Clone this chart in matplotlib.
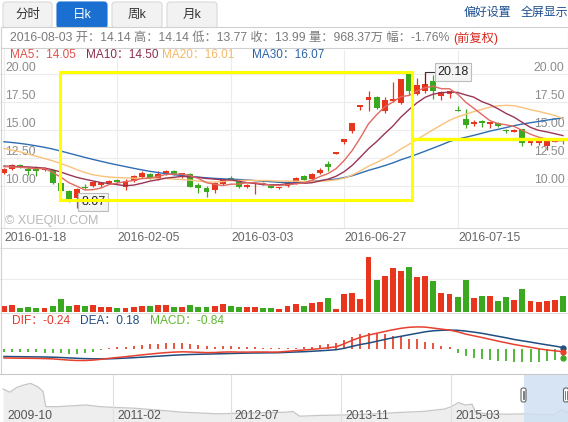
import numpy as np
import matplotlib
matplotlib.use('Agg')
import matplotlib.pyplot as plt
from matplotlib.patches import Rectangle, FancyBboxPatch

plt.rcParams['font.family'] = ['Liberation Sans', 'Noto Sans CJK SC', 'DejaVu Sans']

# daily k-line 2016-01-18 .. 2016-08-03 (70 trading days, suspension Mar-Jun)
opens = [11.2, 11.5, 11.85, 11.5, 11.45, 11.4, 11.4, 10.3, 9.55, 8.9,
         9.9, 10.0, 10.05, 10.25, 10.55, 9.95, 10.45, 10.8, 11.1, 10.65,
         11.05, 11.35, 10.95, 11.1, 10.1, 9.8, 9.6, 10.15, 10.7, 10.6,
         9.95, 10.15, 10.25, 10.0, 9.8, 10.0, 10.2, 10.9, 10.6, 11.15,
         11.95, 12.9, 13.9, 14.95, 17.05, 17.7, 17.95, 16.65, 17.55, 17.4,
         20.0, 18.25, 18.5, 19.4, 18.05, 18.2, 16.7, 15.95, 15.55, 15.8,
         15.5, 15.65, 14.95, 14.85, 15.05, 13.85, 13.8, 13.6, 13.95, 14.14]
closes = [11.5, 11.9, 11.7, 11.3, 11.35, 11.5, 10.25, 9.55, 8.85, 9.75,
          9.8, 10.4, 10.3, 10.45, 10.35, 10.45, 10.9, 11.15, 10.7, 11.05,
          11.35, 11.05, 11.15, 9.95, 9.85, 9.5, 10.3, 10.6, 10.55, 9.9,
          10.1, 10.3, 10.15, 9.85, 9.85, 10.4, 10.7, 10.55, 11.1, 11.45,
          11.74, 12.92, 14.2, 15.6, 17.1, 17.95, 16.95, 17.7, 17.75, 19.55,
          18.45, 19.0, 19.1, 18.45, 18.4, 18.45, 16.65, 15.45, 15.75, 15.6,
          15.7, 15.35, 14.9, 15.0, 13.85, 14.0, 14.05, 14.1, 14.1, 13.99]
highs = [11.65, 12.0, 12.0, 11.8, 11.8, 11.7, 11.45, 10.35, 9.6, 9.8,
         10.15, 10.45, 10.4, 10.55, 10.6, 10.6, 11.0, 11.3, 11.15, 11.3,
         11.4, 11.4, 11.2, 11.15, 10.3, 10.0, 10.35, 10.65, 10.9, 10.65,
         10.15, 10.35, 10.35, 10.1, 9.9, 10.45, 10.8, 10.95, 11.2, 11.6,
         12.2, 12.92, 14.2, 15.6, 17.1, 18.45, 18.0, 17.9, 19.3, 19.55,
         20.15, 19.65, 20.18, 19.9, 18.45, 18.5, 17.1, 16.85, 15.85, 15.85,
         15.75, 15.75, 15.05, 15.05, 15.1, 14.05, 14.1, 14.15, 14.15, 14.14]
lows = [11.05, 11.4, 11.6, 11.0, 10.9, 11.3, 10.2, 9.5, 8.6, 8.07,
        9.7, 9.95, 9.95, 10.2, 10.3, 9.65, 10.4, 10.7, 10.6, 10.5,
        11.0, 10.95, 10.75, 9.9, 9.4, 9.05, 9.35, 10.1, 10.5, 9.85,
        9.85, 9.3, 10.05, 9.8, 9.7, 9.95, 10.15, 10.5, 10.5, 11.1,
        11.35, 12.9, 13.75, 14.75, 16.8, 16.65, 16.9, 16.5, 17.5, 17.3,
        18.1, 18.1, 18.3, 17.75, 17.7, 17.85, 16.65, 15.15, 15.4, 15.3,
        15.15, 15.3, 14.75, 14.8, 13.55, 13.7, 13.7, 13.2, 13.9, 13.77]
# volume, 万股
volumes = [360, 420, 240, 300, 240, 240, 360, 790, 360, 420,
           360, 420, 300, 300, 240, 240, 300, 360, 360, 420,
           420, 300, 300, 420, 300, 300, 360, 480, 360, 300,
           300, 300, 240, 240, 180, 360, 480, 360, 560, 620,
           850, 180, 1110, 1150, 790, 3350, 1940, 2180, 2660, 2480,
           2720, 2120, 2200, 1880, 1150, 1110, 910, 1940, 850, 970,
           970, 670, 910, 730, 1390, 670, 610, 670, 730, 968.37]

ma5 = [11.73, 11.7, 11.68, 11.6, 11.55, 11.55, 11.22, 10.79, 10.3, 9.98,
       9.64, 9.67, 9.82, 10.14, 10.26, 10.39, 10.49, 10.66, 10.71, 10.85,
       11.03, 11.06, 11.06, 10.91, 10.67, 10.3, 10.15, 10.04, 10.16, 10.17,
       10.29, 10.29, 10.2, 10.06, 10.05, 10.11, 10.19, 10.27, 10.52, 10.84,
       11.11, 11.55, 12.28, 13.18, 14.31, 15.55, 16.36, 17.06, 17.49, 17.98,
       18.08, 18.49, 18.77, 18.91, 18.68, 18.68, 18.21, 17.48, 16.94, 16.38,
       15.83, 15.57, 15.46, 15.31, 14.96, 14.62, 14.36, 14.2, 14.02, 14.05]
ma10 = [11.78, 11.75, 11.72, 11.7, 11.65, 11.6, 11.45, 11.25, 11.0, 10.77,
        10.6, 10.45, 10.3, 10.22, 10.12, 10.02, 10.08, 10.24, 10.43, 10.56,
        10.71, 10.78, 10.86, 10.81, 10.76, 10.67, 10.61, 10.55, 10.54, 10.42,
        10.3, 10.22, 10.12, 10.11, 10.11, 10.2, 10.24, 10.24, 10.29, 10.45,
        10.61, 10.87, 11.28, 11.85, 12.58, 13.33, 13.96, 14.67, 15.34, 16.15,
        16.82, 17.43, 17.92, 18.2, 18.33, 18.38, 18.35, 18.13, 17.93, 17.53,
        17.26, 16.89, 16.47, 16.13, 15.67, 15.23, 14.97, 14.83, 14.67, 14.5]
ma20 = [13.35, 13.2, 13.05, 12.85, 12.65, 12.45, 12.25, 12.0, 11.75, 11.45,
        11.2, 11.0, 10.88, 10.8, 10.75, 10.72, 10.7, 10.68, 10.67, 10.67,
        10.66, 10.62, 10.58, 10.52, 10.44, 10.35, 10.35, 10.4, 10.49, 10.49,
        10.51, 10.5, 10.49, 10.46, 10.44, 10.44, 10.43, 10.4, 10.42, 10.44,
        10.46, 10.55, 10.7, 10.98, 11.35, 11.77, 12.1, 12.46, 12.82, 13.3,
        13.72, 14.15, 14.6, 15.03, 15.46, 15.86, 16.16, 16.4, 16.64, 16.84,
        17.04, 17.16, 17.2, 17.17, 17.0, 16.81, 16.66, 16.48, 16.3, 16.01]
ma30 = [13.95, 13.88, 13.8, 13.7, 13.58, 13.45, 13.3, 13.12, 12.93, 12.74,
        12.55, 12.37, 12.2, 12.03, 11.88, 11.73, 11.58, 11.44, 11.31, 11.2,
        11.1, 11.01, 10.93, 10.86, 10.79, 10.73, 10.68, 10.64, 10.61, 10.58,
        10.54, 10.48, 10.43, 10.38, 10.33, 10.3, 10.31, 10.34, 10.42, 10.48,
        10.54, 10.62, 10.75, 10.92, 11.15, 11.4, 11.6, 11.82, 12.06, 12.34,
        12.58, 12.84, 13.11, 13.39, 13.67, 13.97, 14.18, 14.35, 14.52, 14.71,
        14.9, 15.06, 15.22, 15.39, 15.53, 15.65, 15.76, 15.88, 15.98, 16.07]

dif = [-0.87, -0.88, -0.89, -0.9, -0.91, -0.93, -0.96, -1.02, -1.08, -1.12,
       -1.12, -1.08, -1.0, -0.9, -0.82, -0.74, -0.65, -0.56, -0.48, -0.4,
       -0.33, -0.28, -0.25, -0.27, -0.3, -0.33, -0.32, -0.28, -0.26, -0.28,
       -0.28, -0.27, -0.27, -0.28, -0.27, -0.2, -0.13, -0.07, -0.01, 0.07,
       0.15, 0.25, 0.55, 0.9, 1.2, 1.42, 1.6, 1.78, 1.95, 2.1,
       2.2, 2.24, 2.22, 2.12, 2.02, 1.92, 1.75, 1.52, 1.35, 1.18,
       1.0, 0.82, 0.65, 0.48, 0.34, 0.2, 0.05, -0.06, -0.15, -0.24]
dea = [-0.72, -0.73, -0.74, -0.75, -0.76, -0.77, -0.79, -0.82, -0.86, -0.9,
       -0.93, -0.95, -0.96, -0.95, -0.92, -0.88, -0.84, -0.79, -0.74, -0.69,
       -0.64, -0.59, -0.55, -0.52, -0.5, -0.48, -0.46, -0.44, -0.42, -0.4,
       -0.38, -0.37, -0.36, -0.35, -0.34, -0.3, -0.27, -0.24, -0.2, -0.15,
       -0.1, -0.04, 0.1, 0.3, 0.48, 0.62, 0.8, 0.98, 1.15, 1.3,
       1.45, 1.6, 1.75, 1.85, 1.9, 1.92, 1.9, 1.82, 1.72, 1.6,
       1.45, 1.3, 1.15, 0.98, 0.85, 0.72, 0.58, 0.45, 0.32, 0.18]
macd = [-0.3, -0.3, -0.3, -0.3, -0.3, -0.32, -0.34, -0.4, -0.44, -0.44,
        -0.38, -0.26, -0.08, 0.1, 0.2, 0.28, 0.38, 0.46, 0.52, 0.58,
        0.62, 0.62, 0.6, 0.5, 0.4, 0.3, 0.28, 0.32, 0.32, 0.24,
        0.2, 0.2, 0.18, 0.14, 0.14, 0.1, 0.17, 0.2, 0.27, 0.4,
        0.5, 0.6, 0.93, 1.27, 1.53, 1.67, 1.6, 1.5, 1.37, 1.2,
        1.05, 1.0, 0.77, 0.6, 0.37, 0.2, -0.4, -0.67, -0.9, -1.0,
        -1.07, -1.13, -1.2, -1.25, -1.25, -1.25, -1.22, -1.15, -1.05, -0.84]

date_ticks = [0, 14, 28, 42, 56]
date_labels = ['2016-01-18', '2016-02-05', '2016-03-03', '2016-06-27', '2016-07-15']
price_ticks = [10.0, 12.5, 15.0, 17.5, 20.0]
hi_idx, hi_val = 52, 20.18
lo_idx, lo_val = 9, 8.07

# overview navigator (months since 2009-10)
nav_months = [0, 1, 2, 3, 4, 5, 5.8, 6.2, 8, 10, 12, 14, 16, 19, 22, 26, 31, 36, 41,
              42, 43, 46, 49, 53, 57, 61, 64, 65, 66, 67, 68, 68.5, 70, 73, 76, 78, 80, 81, 82]
nav_values = [45, 41, 47, 50, 52, 48, 42, 23, 23, 24, 25, 23, 22, 21, 19, 16, 14, 15, 16,
              17, 11, 12, 12.5, 13.5, 15.5, 17, 20, 23, 28, 25, 26, 16, 14, 13.5, 14, 13, 13, 19, 15.5]
nav_ticks = [0, 16, 33, 49, 65]
nav_labels = ['2009-10', '2011-02', '2012-07', '2013-11', '2015-03']

W, H = 568, 422
RED = '#e8351d'
GREEN = '#3aa91f'
GRID = '#ececec'

fig = plt.figure(figsize=(W / 100, H / 100), dpi=100)


def panel(top, bottom):
    a = fig.add_axes([0, 1 - bottom / H, 1, (bottom - top) / H])
    a.set_axis_off()
    return a


x = np.arange(len(closes))
xlim = (-4 / 8.1, 564 / 8.1)
colors = [RED if c >= o else GREEN for o, c in zip(opens, closes)]

# price panel
ax = panel(50, 228)
ax.set_xlim(*xlim)
ax.set_ylim(6.25, 22.14)
for p in price_ticks:
    ax.axhline(p, color=GRID, lw=0.8, zorder=0)
    ax.text(0.009, p + 0.54, f'{p:.2f}', transform=ax.get_yaxis_transform(),
            ha='left', va='center', fontsize=8.8, color='#8c8c8c')
    ax.text(0.994, p + 0.54, f'{p:.2f}', transform=ax.get_yaxis_transform(),
            ha='right', va='center', fontsize=8.8, color='#8c8c8c')
for t, lab in zip(date_ticks, date_labels):
    ax.axvline(t, color=GRID, lw=0.8, zorder=0)
    ax.text(t + 0.05, -0.058, lab, transform=ax.get_xaxis_transform(),
            ha='left', va='center', fontsize=8.8, color='#666666', clip_on=False)

ax.vlines(x, lows, highs, colors=colors, lw=0.9, zorder=3)
body_lo = np.minimum(opens, closes)
body_h = np.maximum(np.abs(np.subtract(closes, opens)), 0.14)
ax.bar(x, body_h, 0.72, bottom=body_lo, color=colors, zorder=3)

ax.plot(x, ma30, color='#2f6db3', lw=1.0, zorder=4)
ax.plot(x, ma20, color='#f9c27a', lw=1.0, zorder=4)
ax.plot(x, ma10, color='#9a3556', lw=1.0, zorder=4)
ax.plot(x, ma5, color='#e06a62', lw=1.0, zorder=4)

ax.plot([hi_idx, hi_idx, hi_idx + 1.4], [closes[hi_idx], hi_val, hi_val], color='#333333', lw=0.8, zorder=5)
ax.text(hi_idx + 1.5, hi_val, f'{hi_val:.2f}', ha='left', va='center', fontsize=9, color='#222222', zorder=6,
        bbox=dict(boxstyle='square,pad=0.22', fc='#f4f4f4', ec='#bdbdbd', lw=0.8))
ax.annotate(f'{lo_val:.2f}', (lo_idx, lo_val), xytext=(3, 4), textcoords='offset points',
            ha='left', va='center', fontsize=9, color='#222222', zorder=6,
            bbox=dict(boxstyle='square,pad=0.22', fc='#f4f4f4', ec='#bdbdbd', lw=0.8))

# volume panel
av = panel(250, 312)
av.set_xlim(*xlim)
av.set_ylim(0, 3751)
av.axhline(2000, color=GRID, lw=0.8, zorder=0)
av.bar(x, volumes, 0.72, color=colors)

# MACD panel
am = panel(315, 372)
am.set_xlim(*xlim)
am.set_ylim(-2.27, 3.43)
am.vlines(x, 0, macd, colors=[RED if v >= 0 else GREEN for v in macd], lw=1.2)
am.plot(x, dea, color='#1f4e80', lw=1.1)
am.plot(x, dif, color='#e8402e', lw=1.1)
am.plot(x[-1], dea[-1], 'o', ms=3.5, color='#1f4e80')
am.plot(x[-1], dif[-1], 'o', ms=3.5, color='#e8402e')
am.plot(x[-1], macd[-1], 'o', ms=3.5, color=GREEN)

# navigator
an = panel(374, 422)
an.set_xlim(-0.435, 81.9)
an.set_ylim(3.75, 63.75)
an.fill_between(nav_months, nav_values, 3.75, color='#eeeeee', lw=0)
an.plot(nav_months, nav_values, color='#c6c6c6', lw=0.9)
for m, lab in zip(nav_ticks, nav_labels):
    if m > 0:
        an.axvline(m, color='#e0e0e0', lw=0.8, zorder=2)
    an.text(m + 0.6, 0.13, lab, transform=an.get_xaxis_transform(), ha='left', va='center',
            fontsize=8.8, color='#555555')
an.axvspan(75.5, 82, color='#cfe0f1', alpha=0.85, lw=0, zorder=3)

# overlay in pixel coordinates
ov = fig.add_axes([0, 0, 1, 1])
ov.set_xlim(0, W)
ov.set_ylim(H, 0)
ov.set_axis_off()

for x0, x1, lab, active in [(3, 52, '分时', False), (57, 107, '日k', True),
                            (112, 162, '周k', False), (167, 217, '月k', False)]:
    ov.add_patch(FancyBboxPatch((x0, 2), x1 - x0, 26, boxstyle='round,pad=0,rounding_size=3',
                                fc='#1a6fd0' if active else '#f2f2f2',
                                ec='#1a6fd0' if active else '#d9d9d9', lw=0.8))
    ov.text((x0 + x1) / 2, 15, lab, ha='center', va='center', fontsize=9,
            color='white' if active else '#333333')
ov.text(464, 13, '偏好设置', ha='left', va='center', fontsize=8.6, color='#1d4f91')
ov.text(521, 13, '全屏显示', ha='left', va='center', fontsize=8.6, color='#1d4f91')

ov.add_patch(Rectangle((0.5, 27), W - 1, 21, fc='white', ec='#d0d0d0', lw=0.8))
info = ov.text(10, 38, '2016-08-03 开：14.14 高：14.14 低：13.77 收：13.99 量：968.37万 幅：-1.76%',
               ha='left', va='center', fontsize=9, color='#7a7a7a')
fig.canvas.draw()
r = fig.canvas.get_renderer()
wd = info.get_window_extent(r).width
info.set_fontsize(9 * 440 / wd)
fig.canvas.draw()
x_end = info.get_window_extent(r).x1
ov.text(x_end + 4, 38, '(前复权)', ha='left', va='center', fontsize=info.get_fontsize(), color='#d9261c')

for xp, lab, col in [(10, 'MA5：14.05', '#e0504a'), (86, 'MA10：14.50', '#8e2d50'),
                     (162, 'MA20：16.01', '#f5b868'), (252, 'MA30：16.07', '#2a62a6')]:
    ov.text(xp, 55.5, lab, ha='left', va='center', fontsize=8.5, color=col)
for xp, lab, col in [(12, 'DIF：-0.24', '#e8352a'), (80, 'DEA：0.18', '#1f4c85'),
                     (150, 'MACD：-0.84', '#5cb82e')]:
    ov.text(xp, 321, lab, ha='left', va='center', fontsize=8.6, color=col)
ov.text(5, 221, '© XUEQIU.COM', ha='left', va='center', fontsize=9, color='#b8b8b8')

ov.plot([1, 1], [48, 374], color='#d0d0d0', lw=0.8)
for yy in [227.5, 247.5, 312.5]:
    ov.plot([0, W], [yy, yy], color='#dcdcdc', lw=0.8)
ov.plot([0, W], [373.5, 373.5], color='#c8c8c8', lw=0.8)

# handles of the range selector
for hx in [521, 563.5]:
    ov.add_patch(FancyBboxPatch((hx, 388), 5, 14, boxstyle='round,pad=0,rounding_size=2',
                                fc='white', ec='#666666', lw=0.8))
    ov.plot([hx + 1.8, hx + 1.8], [391, 399], color='#666666', lw=0.6)
    ov.plot([hx + 3.2, hx + 3.2], [391, 399], color='#666666', lw=0.6)

# yellow highlight marks
ov.add_patch(Rectangle((59.5, 72), 352.5, 128, fill=False, ec='#ffff00', lw=2.2))
ov.plot([412, W], [139, 139], color='#ffff00', lw=2.4, solid_capstyle='butt')

fig.savefig('out.png', dpi=100)
